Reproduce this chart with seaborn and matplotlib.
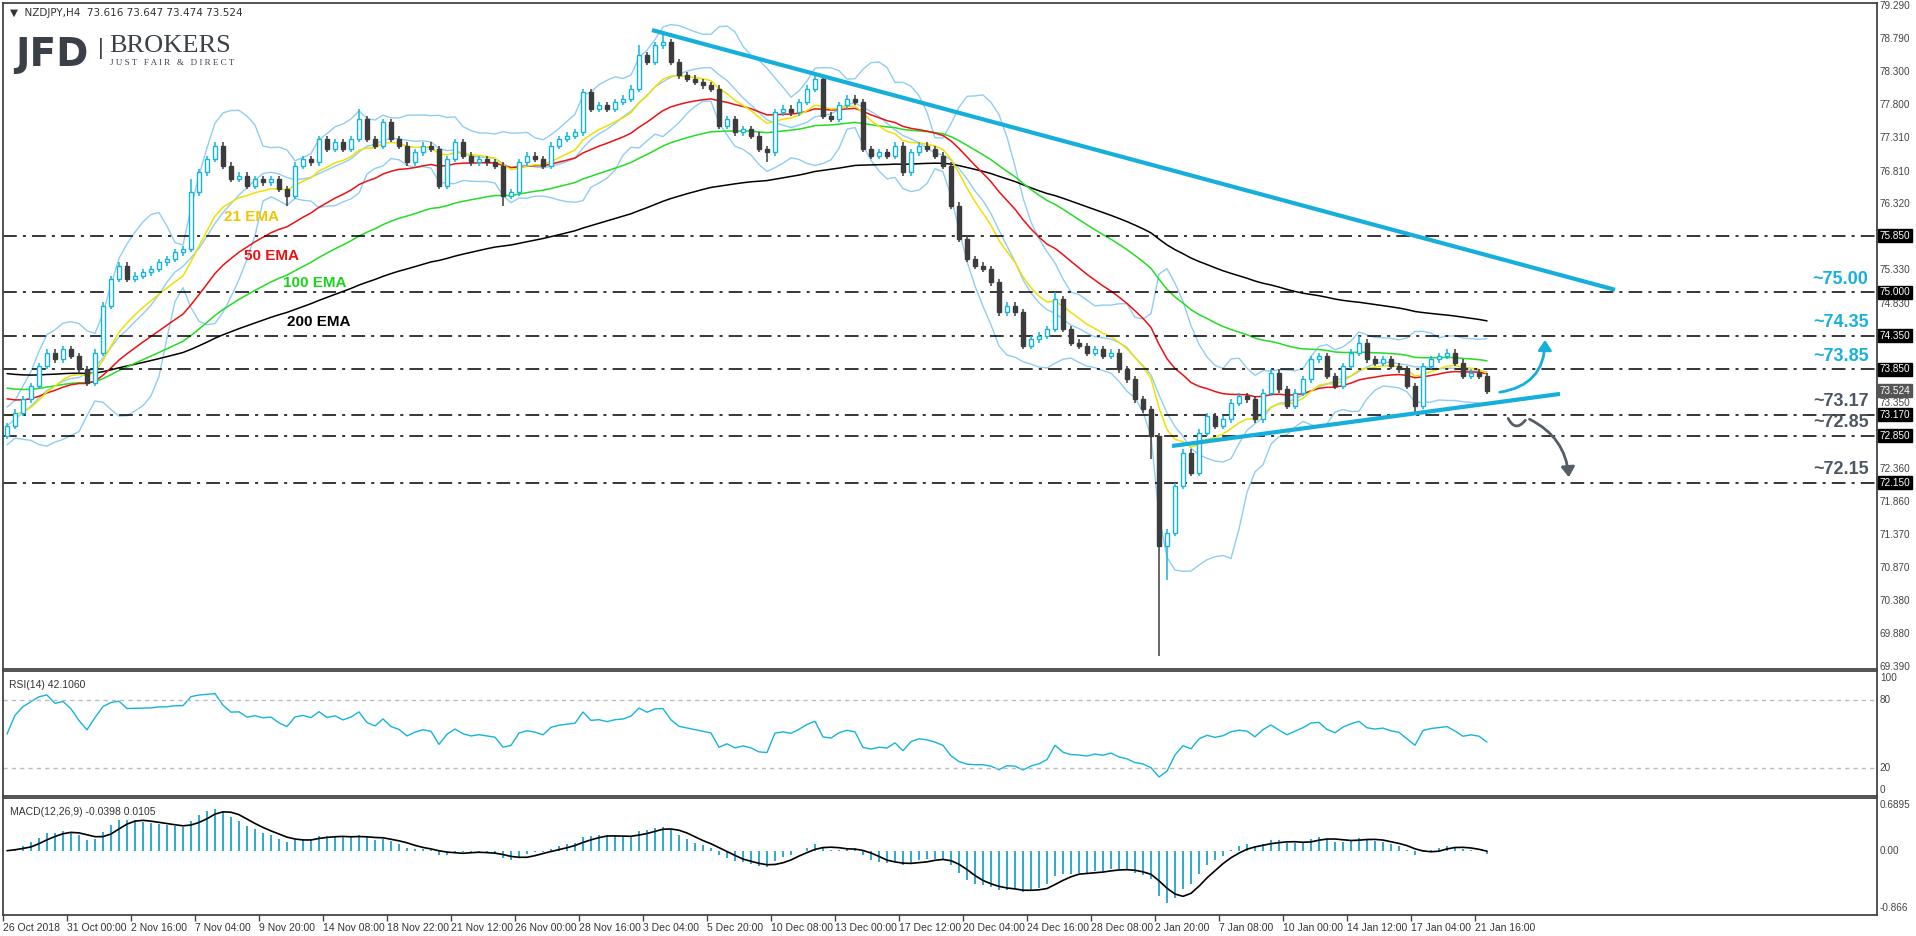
import numpy as np
import pandas as pd
import seaborn as sns
import matplotlib.pyplot as plt
from matplotlib.transforms import blended_transform_factory
from matplotlib.patches import FancyArrowPatch

# NZDJPY H4 closes (one candle per two H4 slots)
closes = [73.0, 73.2, 73.4, 73.6, 73.9, 74.1, 74.0, 74.15, 74.05, 73.85,
          73.65, 74.1, 74.8, 75.2, 75.4, 75.2, 75.25, 75.3, 75.35, 75.45,
          75.5, 75.6, 75.65, 76.5, 76.8, 77.0, 77.2, 76.9, 76.7, 76.75,
          76.6, 76.7, 76.65, 76.7, 76.55, 76.45, 76.9, 77.0, 76.95, 77.3,
          77.15, 77.25, 77.15, 77.3, 77.6, 77.3, 77.2, 77.55, 77.3, 77.2,
          76.95, 77.1, 77.2, 77.15, 76.6, 77.0, 77.25, 77.05, 76.95, 77.0,
          76.95, 76.9, 76.45, 76.5, 76.95, 77.05, 77.0, 76.9, 77.2, 77.3,
          77.35, 77.4, 78.0, 77.75, 77.8, 77.75, 77.85, 77.9, 78.05, 78.55,
          78.45, 78.7, 78.75, 78.45, 78.25, 78.2, 78.15, 78.1, 78.05, 77.5,
          77.6, 77.4, 77.45, 77.35, 77.15, 77.1, 77.7, 77.75, 77.7, 77.85,
          78.05, 78.2, 77.65, 77.6, 77.8, 77.9, 77.85, 77.15, 77.05, 77.1,
          77.05, 77.2, 76.8, 77.1, 77.2, 77.15, 77.05, 76.9, 76.3, 75.8,
          75.5, 75.4, 75.35, 75.15, 74.7, 74.8, 74.7, 74.2, 74.3, 74.35,
          74.45, 74.9, 74.45, 74.25, 74.2, 74.1, 74.15, 74.05, 74.1, 73.85,
          73.7, 73.4, 73.25, 72.85, 71.2, 71.4, 72.1, 72.6, 72.3, 72.9,
          73.15, 73.0, 73.1, 73.35, 73.45, 73.4, 73.1, 73.5, 73.8, 73.55,
          73.3, 73.5, 73.7, 74.0, 74.05, 73.75, 73.6, 73.9, 74.1, 74.25,
          74.0, 73.95, 74.0, 73.9, 73.85, 73.6, 73.3, 73.9, 74.0, 74.05,
          74.1, 73.95, 73.75, 73.8, 73.75, 73.524]
first_open = 72.85
# notable wicks (candle index: price)
wick_highs = {23: 76.7, 44: 77.75, 79: 78.7, 82: 78.9, 101: 78.3, 131: 75.0, 169: 74.35}
wick_lows = {35: 76.3, 62: 76.3, 95: 76.95, 143: 72.5, 144: 69.55, 145: 70.7, 176: 73.17}

# EMA starting values read at the left edge
ema_seed = {21: 73.2, 50: 73.44, 100: 73.59, 200: 73.8}

levels = [75.85, 75.00, 74.35, 73.85, 73.17, 72.85, 72.15]
level_texts = ['~75.00', '~74.35', '~73.85', '~73.17', '~72.85', '~72.15']
level_text_prices = [75.00, 74.35, 73.85, 73.17, 72.85, 72.15]
ytick_vals = [79.29, 78.79, 78.30, 77.80, 77.31, 76.81, 76.32, 75.33, 74.83,
              73.35, 72.36, 71.86, 71.37, 70.87, 70.38, 69.88, 69.39]

xtick_labels = ['26 Oct 2018', '31 Oct 00:00', '2 Nov 16:00', '7 Nov 04:00', '9 Nov 20:00',
                '14 Nov 08:00', '18 Nov 22:00', '21 Nov 12:00', '26 Nov 00:00', '28 Nov 16:00',
                '3 Dec 04:00', '5 Dec 20:00', '10 Dec 08:00', '13 Dec 00:00', '17 Dec 12:00',
                '20 Dec 04:00', '24 Dec 16:00', '28 Dec 08:00', '2 Jan 20:00', '7 Jan 08:00',
                '10 Jan 00:00', '14 Jan 12:00', '17 Jan 04:00', '21 Jan 16:00']

# trend lines: (slot, price)
down_line = [(162.25, 78.93), (403.0, 75.04)]
up_line = [(292.25, 72.70), (389.25, 73.48)]

df = pd.DataFrame({'close': closes})
df['open'] = [first_open] + closes[:-1]
df['high'] = df[['open', 'close']].max(axis=1) + 0.05
df['low'] = df[['open', 'close']].min(axis=1) - 0.05
for k, v in wick_highs.items():
    df.loc[k, 'high'] = v
for k, v in wick_lows.items():
    df.loc[k, 'low'] = v
df['x'] = 2 * df.index + 1  # one candle covers two H4 slots

def ema(series, period, seed):
    span = period / 2  # halved since candles are two slots wide
    a = 2 / (span + 1)
    out = []
    prev = seed
    for v in series:
        prev = prev + a * (v - prev)
        out.append(prev)
    return np.array(out)

for p in [21, 50, 100, 200]:
    df['ema%d' % p] = ema(df['close'], p, ema_seed[p])
mid = df['close'].rolling(10, min_periods=1).mean()
sd = df['close'].rolling(10, min_periods=2).std().bfill()
df['bb_up'] = mid + 2 * sd
df['bb_lo'] = mid - 2 * sd
df['bb_mid'] = mid

delta = df['close'].diff().fillna(0)
gain = delta.clip(lower=0).ewm(alpha=1 / 10, adjust=False).mean() + 0.02
loss = (-delta.clip(upper=0)).ewm(alpha=1 / 10, adjust=False).mean() + 0.02
df['rsi'] = 100 - 100 / (1 + gain / loss)
macd = df['close'].ewm(span=6, adjust=False).mean() - df['close'].ewm(span=13, adjust=False).mean()
df['macd'] = macd
df['signal'] = macd.rolling(4, min_periods=1).mean()

sns.set_style("white")
plt.rcParams['font.family'] = ['Liberation Sans', 'DejaVu Sans']

W, H = 1916, 936
fig = plt.figure(figsize=(W / 100, H / 100), dpi=100)
def box(x0, y0, x1, y1):
    return [x0 / W, 1 - y1 / H, (x1 - x0) / W, (y1 - y0) / H]
ax = fig.add_axes(box(3, 3, 1877, 669))
ax_rsi = fig.add_axes(box(3, 671, 1877, 796))
ax_macd = fig.add_axes(box(3, 798, 1877, 915))

XMAX = (1877 - 3) / 4
BULL = '#14b4dc'
BEAR = '#3c3c3c'
TFS = 7.2

# Bollinger + EMAs
for col in ['bb_up', 'bb_lo', 'bb_mid']:
    sns.lineplot(x=df['x'], y=df[col], ax=ax, color='#8fcdf5', lw=1)
for p, c in [(200, 'black'), (100, '#22dd22'), (50, '#ee1111'), (21, '#f0e000')]:
    sns.lineplot(x=df['x'], y=df['ema%d' % p], ax=ax, color=c, lw=1.1)

# candles
for _, r in df.iterrows():
    bull = r['close'] >= r['open']
    c = BULL if bull else BEAR
    ax.vlines(r['x'], r['low'], r['high'], color=c, lw=1.1, zorder=3)
    b0, b1 = sorted([r['open'], r['close']])
    ax.bar(r['x'], max(b1 - b0, 0.012), bottom=b0, width=1.15,
           color='white' if bull else BEAR, edgecolor=c, lw=1.0, zorder=4)

for lv in levels:
    ax.axhline(lv, color='black', lw=1.1, ls=(0, (9, 4, 2, 4)), zorder=2)

ax.plot(*zip(*down_line), color='#16aedb', lw=3, solid_capstyle='butt', zorder=5)
ax.plot(*zip(*up_line), color='#16aedb', lw=3, solid_capstyle='butt', zorder=5)

# scenario arrows
ax.add_patch(FancyArrowPatch((373.5, 73.50), (385.5, 74.33), connectionstyle='arc3,rad=0.45',
                             arrowstyle='-|>,head_length=6,head_width=4', color='#16aedb', lw=2, zorder=6))
ax.add_patch(FancyArrowPatch((376.0, 73.15), (381.0, 73.12), connectionstyle='arc3,rad=0.9',
                             arrowstyle='-', color='#555d66', lw=2, zorder=6))
ax.add_patch(FancyArrowPatch((381.0, 73.12), (391.5, 72.19), connectionstyle='arc3,rad=-0.3',
                             arrowstyle='-|>,head_length=6,head_width=4', color='#555d66', lw=2, zorder=6))

ylo, yhi = 69.36, 79.335
ax.set_xlim(0, XMAX)
ax.set_ylim(ylo, yhi)

# right-side price labels
tr = blended_transform_factory(ax.transAxes, ax.transData)
for v in ytick_vals:
    ax.text(1.0015, v, '%.3f' % v, transform=tr, fontsize=TFS, color='#444444', va='center')
for v in [75.85, 75.00, 74.35, 73.85, 73.17, 72.85, 72.15]:
    ax.text(1.0015, v, '%.3f' % v, transform=tr, fontsize=TFS, color='white', va='center',
            bbox=dict(boxstyle='square,pad=0.15', fc='black', ec='black'))
ax.text(1.0015, 73.524, '73.524', transform=tr, fontsize=TFS, color='white', va='center',
        bbox=dict(boxstyle='square,pad=0.15', fc='#555555', ec='#555555'))
for t, v in zip(level_texts, level_text_prices):
    c = '#18b0dc' if v > 73.5 else '#4d5862'
    ax.text(0.9955, v + 0.07, t, transform=tr, fontsize=13, fontweight='bold', color=c,
            ha='right', va='bottom', zorder=10)

# EMA labels
ema_labels = [('21 EMA', 62, 76.13, '#f5c400'), ('50 EMA', 67, 75.55, '#ee1111'),
              ('100 EMA', 78, 75.14, '#19d419'), ('200 EMA', 79, 74.56, 'black')]
for t, xx, yy, c in ema_labels:
    ax.text(xx, yy, t, color=c, fontsize=11, fontweight='bold', ha='center', va='center', zorder=10)

# header + logo
ax.text(0.004, 0.993, '\u25bc  NZDJPY,H4  73.616 73.647 73.474 73.524', transform=ax.transAxes,
        fontsize=7.5, color='#333333', va='top', family='DejaVu Sans')
fig.text(15 / W, 1 - 66 / H, 'JFD', fontsize=28, fontweight='bold', color='#3b4048', va='baseline',
         family='DejaVu Sans')
fig.text(98 / W, 1 - 54 / H, '|', fontsize=16, color='#3b4048', va='baseline')
fig.text(109 / W, 1 - 52 / H, 'BROKERS', fontsize=19, family='Liberation Serif', color='#3b4048', va='baseline')
fig.text(110 / W, 1 - 65 / H, 'J U S T   F A I R   &   D I R E C T', fontsize=6.5,
         family='Liberation Serif', color='#3b4048', va='baseline')

# RSI
sns.lineplot(x=df['x'], y=df['rsi'], ax=ax_rsi, color='#14b4dc', lw=1)
for lv in [80, 20]:
    ax_rsi.axhline(lv, color='#bbbbbb', lw=1, ls=(0, (3, 3)))
ax_rsi.set_xlim(0, XMAX)
ax_rsi.set_ylim(-5, 106)
trr = blended_transform_factory(ax_rsi.transAxes, ax_rsi.transData)
for v in [100, 80, 20, 0]:
    ax_rsi.text(1.0015, v, str(v), transform=trr, fontsize=TFS, color='#444444', va='center')
ax_rsi.text(0.003, 0.93, 'RSI(14) 42.1060', transform=ax_rsi.transAxes, fontsize=7.5,
            color='#333333', va='top')

# MACD
ax_macd.vlines(df['x'], 0, df['macd'], color='#1ea5c8', lw=1.3)
sns.lineplot(x=df['x'], y=df['signal'], ax=ax_macd, color='black', lw=1.2)
ax_macd.set_xlim(0, XMAX)
ax_macd.set_ylim(-0.97, 0.795)
trm = blended_transform_factory(ax_macd.transAxes, ax_macd.transData)
for v, t in [(0.6895, '0.6895'), (0.0, '0.00'), (-0.866, '-0.866')]:
    ax_macd.text(1.0015, v, t, transform=trm, fontsize=TFS, color='#444444', va='center')
ax_macd.text(0.004, 0.92, 'MACD(12,26,9) -0.0398 0.0105', transform=ax_macd.transAxes,
             fontsize=7.5, color='#333333', va='top')

for a in [ax, ax_rsi, ax_macd]:
    a.set_xlabel('')
    a.set_ylabel('')
    a.set_yticks([])
    for s in a.spines.values():
        s.set_color('#444444')
        s.set_linewidth(1.3)
    a.set_xticks([])
ax_macd.set_xticks([16 * k for k in range(len(xtick_labels))])
ax_macd.set_xticklabels(xtick_labels, fontsize=7.5, color='#333333', ha='left')
ax_macd.tick_params(axis='x', length=4, width=1, color='#444444', pad=2, direction='out',
                    bottom=True)

fig.savefig('out.png', dpi=100)
